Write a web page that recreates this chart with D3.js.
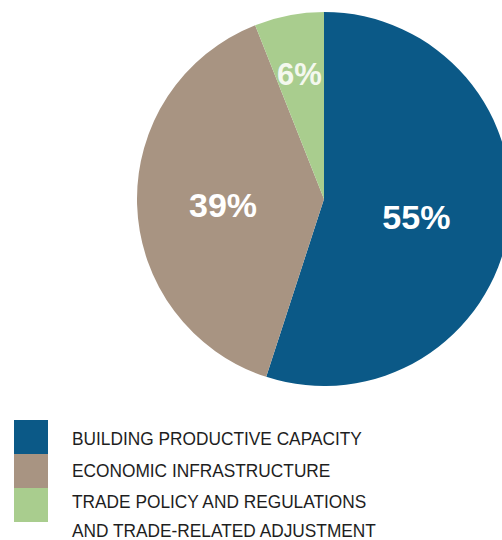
<!DOCTYPE html>
<html>
<head>
<meta charset="utf-8">
<script src="https://cdn.jsdelivr.net/npm/d3@7"></script>
<style>
  body { margin: 0; background: #fff; }
  text { font-family: "Liberation Sans", Arial, sans-serif; }
</style>
</head>
<body>
<div id="chart"></div>
<script>
// shares of aid for trade, by category
const categories = ["BUILDING PRODUCTIVE CAPACITY", "ECONOMIC INFRASTRUCTURE", "TRADE POLICY AND REGULATIONS\nAND TRADE-RELATED ADJUSTMENT"];
const shares = [55, 39, 6];
const labels = ["55%", "39%", "6%"];
const colors = ["#0b5987", "#a89482", "#a9cd8e"];

const width = 502, height = 540;
const cx = 324, cy = 199, radius = 187;

const svg = d3.select("#chart")
  .append("svg")
  .attr("width", width)
  .attr("height", height);

const data = categories.map((c, i) => ({ name: c, value: shares[i], label: labels[i], color: colors[i] }));

const pie = d3.pie().value(d => d.value).sort(null);
const arc = d3.arc().innerRadius(0).outerRadius(radius);

const g = svg.append("g").attr("transform", `translate(${cx},${cy})`);

const arcs = pie(data);

g.selectAll("path")
  .data(arcs)
  .enter()
  .append("path")
  .attr("d", arc)
  .attr("fill", d => d.data.color);

// label positions along the arc centroid
const labelRadius = [0.5, 0.54, 0.7];
g.selectAll(".lbl")
  .data(arcs)
  .enter()
  .append("text")
  .attr("class", "lbl")
  .attr("transform", (d, i) => {
    const a = (d.startAngle + d.endAngle) / 2;
    const r = radius * labelRadius[i];
    return `translate(${Math.sin(a) * r},${-Math.cos(a) * r + 3})`;
  })
  .attr("text-anchor", "middle")
  .attr("dy", "0.36em")
  .attr("fill", d => d.index === 2 ? "#f4f8ee" : "#ffffff")
  .style("font-weight", "bold")
  .style("font-size", (d, i) => i === 2 ? "31px" : "34px")
  .text(d => d.data.label);

// legend
const legend = svg.append("g").attr("transform", "translate(14,420)");
const sw = 34, sh = 34;

legend.selectAll("rect")
  .data(data)
  .enter()
  .append("rect")
  .attr("x", 0)
  .attr("y", (d, i) => i * sh)
  .attr("width", sw)
  .attr("height", sh)
  .attr("fill", d => d.color);

const lineY = [25, 57, 88, 117];
let line = 0;
data.forEach(d => {
  d.name.split("\n").forEach(t => {
    const txt = legend.append("text")
      .attr("x", 58)
      .attr("y", lineY[line++])
      .attr("fill", "#1e1e1e")
      .style("font-size", "19px")
      .text(t);
    // squeeze a little, the original uses a narrow face
    const w = txt.node().getComputedTextLength();
    txt.attr("textLength", w * 0.91).attr("lengthAdjust", "spacingAndGlyphs");
  });
});
</script>
</body>
</html>
